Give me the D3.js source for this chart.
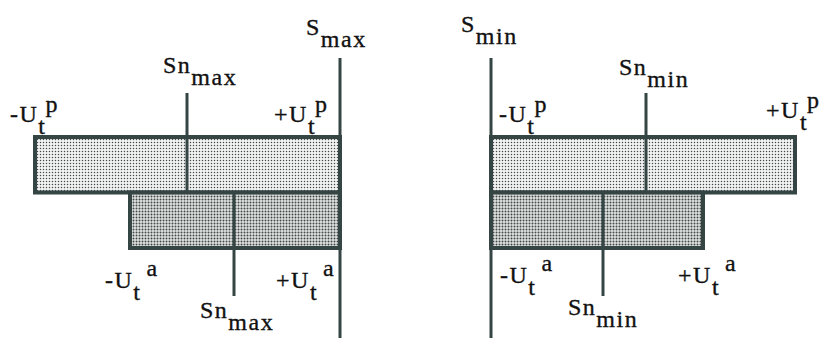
<!DOCTYPE html>
<html>
<head>
<meta charset="utf-8">
<script src="https://cdn.jsdelivr.net/npm/d3@7/dist/d3.min.js"></script>
<style>
  html, body { margin: 0; padding: 0; background: #fff; }
</style>
</head>
<body>
<div id="chart"></div>
<script>
// Dados (unidades arbitrárias, 0 = linha S)
const linhas = ["p", "a"];
const barraMax = [-30.5, -21.0];     // -Ut (p, a) no painel Smax
const snMax = [-15.3, -10.6];        // Sn_max (p, a)
const barraMin = [30.4, 21.2];       // +Ut (p, a) no painel Smin
const snMin = [15.5, 11.2];          // Sn_min (p, a)

const largura = 825, altura = 338;
const cor = "#354544";

const svg = d3.select("#chart").append("svg")
  .attr("width", largura)
  .attr("height", altura)
  .style("font-family", "'Liberation Serif', 'Times New Roman', serif");

// padrões pontilhados
const defs = svg.append("defs");
function padrao(id, r, fundo) {
  const p = defs.append("pattern")
    .attr("id", id).attr("width", 3).attr("height", 3)
    .attr("patternUnits", "userSpaceOnUse");
  p.append("rect").attr("width", 3).attr("height", 3).attr("fill", fundo);
  p.append("circle").attr("cx", 1.5).attr("cy", 1.5).attr("r", r).attr("fill", "#404b49");
}
padrao("claro", 0.75, "#f2f2f2");
padrao("escuro", 1.0, "#e2e2e2");

// Escalas
const xEsq = d3.scaleLinear().domain([-30.5, 0]).range([35, 340]);
const xDir = d3.scaleLinear().domain([0, 30.4]).range([491, 795]);
const y = d3.scaleBand().domain(linhas).range([137, 248]).paddingInner(0);

function painel(x, extremos, sns) {
  const g = svg.append("g");
  const zero = x(0);

  // linha S
  g.append("line")
    .attr("x1", zero).attr("x2", zero)
    .attr("y1", 58).attr("y2", altura)
    .attr("stroke", cor).attr("stroke-width", 3);

  // barras
  g.selectAll("rect.barra")
    .data(linhas)
    .join("rect")
    .attr("class", "barra")
    .attr("x", (d, i) => Math.min(x(extremos[i]), zero))
    .attr("y", d => y(d))
    .attr("width", (d, i) => Math.abs(x(extremos[i]) - zero))
    .attr("height", y.bandwidth())
    .attr("fill", (d, i) => i === 0 ? "url(#claro)" : "url(#escuro)")
    .attr("stroke", cor).attr("stroke-width", 4);

  // linhas Sn
  g.selectAll("line.sn")
    .data(linhas)
    .join("line")
    .attr("class", "sn")
    .attr("x1", (d, i) => x(sns[i])).attr("x2", (d, i) => x(sns[i]))
    .attr("y1", (d, i) => i === 0 ? 93 : y(d))
    .attr("y2", (d, i) => i === 0 ? y(d) + y.bandwidth() : 296)
    .attr("stroke", cor).attr("stroke-width", 3);
}

painel(xEsq, barraMax, snMax);
painel(xDir, barraMin, snMin);

// Rótulos com índices
function rotulo(xp, yp, base, sub, sup) {
  const t = svg.append("text")
    .attr("x", xp).attr("y", yp)
    .attr("font-size", 24)
    .attr("letter-spacing", 1.5)
    .attr("fill", "#111")
    .attr("stroke", "#111").attr("stroke-width", 0.35);
  t.append("tspan").text(base);
  if (sub) t.append("tspan").attr("dy", 12).text(sub);
  if (sup === "p") t.append("tspan").attr("dy", -22).attr("dx", -1).text(sup);
  if (sup === "a") t.append("tspan").attr("dy", -24).attr("dx", 5).text(sup);
}

// painel Smax
rotulo(306, 35, "S", "max");
rotulo(163, 73, "Sn", "max");
rotulo(10, 122, "-U", "t", "p");
rotulo(274, 122, "+U", "t", "p");
rotulo(105, 288, "-U", "t", "a");
rotulo(276, 288, "+U", "t", "a");
rotulo(200, 318, "Sn", "max");

// painel Smin
rotulo(461, 32, "S", "min");
rotulo(619, 75, "Sn", "min");
rotulo(499, 122, "-U", "t", "p");
rotulo(766, 118, "+U", "t", "p");
rotulo(500, 283, "-U", "t", "a");
rotulo(678, 283, "+U", "t", "a");
rotulo(568, 315, "Sn", "min");
</script>
</body>
</html>
